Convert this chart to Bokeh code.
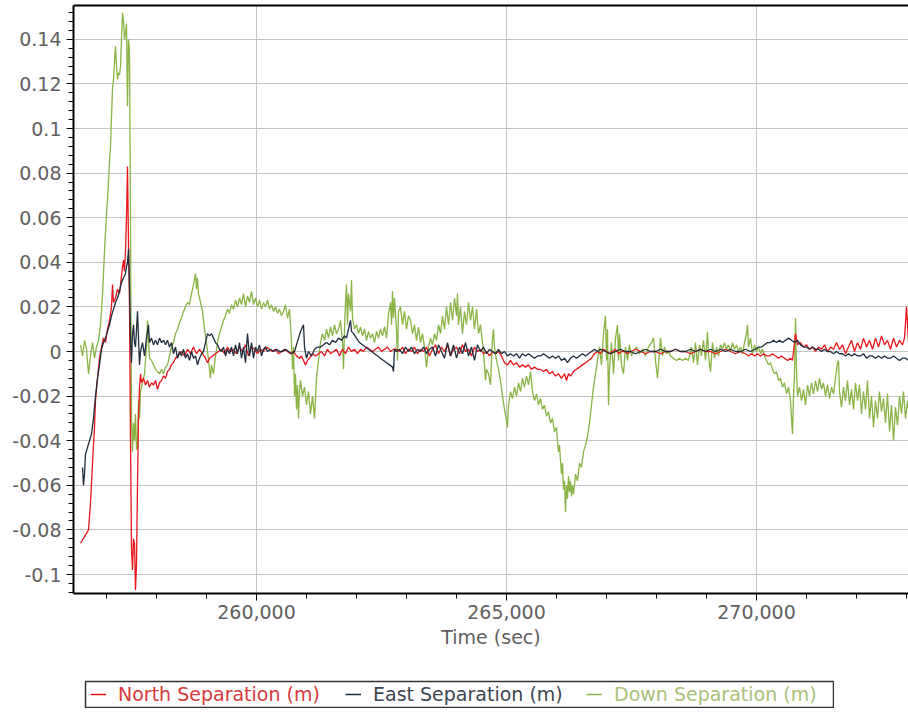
from bokeh.plotting import figure
from bokeh.models import (Range1d, LinearAxis, SingleIntervalTicker, FixedTicker,
                          NumeralTickFormatter, CustomJSTickFormatter, Legend, LegendItem, Spacer)
from bokeh.layouts import column, row
from bokeh.embed import file_html
from bokeh.resources import INLINE

series_names = ["North Separation (m)", "East Separation (m)", "Down Separation (m)"]
x_label = "Time (sec)"

north_t = [256480, 256560, 256640, 256680, 256720, 256760, 256780, 256820, 256860, 256900, 256940, 256980,
           257020, 257060, 257100, 257120, 257140, 257180, 257220, 257260, 257300, 257340, 257360, 257380,
           257400, 257420, 257440, 257460, 257480, 257500, 257520, 257540, 257560, 257580, 257600, 257620,
           257640, 257660, 257680, 257700, 257740, 257780, 257820, 257860, 257900, 257940, 257980, 258020,
           258060, 258100, 258140, 258180, 258220, 258260, 258300, 258340, 258380, 258420, 258460, 258500,
           258560, 258620, 258680, 258740, 258800, 258860, 258920, 258980, 259020, 259060, 259120, 259180,
           259240, 259300, 259360, 259420, 259480, 259540, 259600, 259660, 259720, 259780, 259840, 259900,
           259960, 260020, 260080, 260140, 260200, 260260, 260320, 260380, 260440, 260500, 260560, 260620,
           260680, 260740, 260800, 260860, 260900, 260940, 260980, 261020, 261060, 261120, 261180, 261240,
           261300, 261360, 261420, 261480, 261540, 261600, 261660, 261720, 261780, 261840, 261900, 261960,
           262020, 262080, 262140, 262200, 262260, 262320, 262380, 262440, 262500, 262560, 262620, 262680,
           262740, 262800, 262860, 262920, 262980, 263040, 263100, 263160, 263220, 263280, 263340, 263400,
           263460, 263520, 263580, 263640, 263700, 263760, 263820, 263880, 263940, 264000, 264060, 264120,
           264180, 264240, 264300, 264360, 264420, 264480, 264540, 264600, 264660, 264720, 264780, 264840,
           264900, 264960, 265020, 265080, 265140, 265200, 265260, 265320, 265380, 265440, 265500, 265560,
           265620, 265680, 265740, 265800, 265860, 265920, 265980, 266040, 266100, 266160, 266200, 266240,
           266280, 266340, 266400, 266460, 266520, 266580, 266640, 266700, 266760, 266820, 266880, 266940,
           267000, 267060, 267120, 267180, 267240, 267300, 267360, 267420, 267480, 267580, 267680, 267780,
           267880, 267980, 268080, 268180, 268280, 268380, 268480, 268580, 268680, 268780, 268880, 268980,
           269080, 269180, 269280, 269380, 269480, 269580, 269680, 269780, 269840, 269900, 269960, 270020,
           270080, 270140, 270200, 270260, 270320, 270380, 270440, 270500, 270560, 270620, 270680, 270720,
           270760, 270780, 270820, 270880, 270940, 271000, 271060, 271120, 271180, 271240, 271300, 271360,
           271420, 271480, 271540, 271600, 271660, 271720, 271780, 271840, 271900, 271960, 272020, 272080,
           272140, 272200, 272260, 272320, 272380, 272440, 272500, 272560, 272620, 272680, 272740, 272800,
           272860, 272920, 272960, 273000, 273040]
north_v = [-0.086, -0.083, -0.080, -0.068, -0.050, -0.034, -0.022, -0.012, -0.003, 0.002, 0.006, 0.004,
           0.010, 0.014, 0.020, 0.030, 0.022, 0.024, 0.028, 0.026, 0.034, 0.041, 0.036, 0.045,
           0.060, 0.083, 0.048, 0.020, -0.040, -0.088, -0.098, -0.084, -0.086, -0.107, -0.095, -0.060,
           -0.030, -0.016, -0.010, -0.014, -0.012, -0.015, -0.013, -0.016, -0.014, -0.015, -0.013, -0.017,
           -0.014, -0.013, -0.011, -0.012, -0.009, -0.008, -0.006, -0.005, -0.003, -0.002, -0.001, 0.000,
           -0.002, 0.001, -0.001, 0.002, -0.001, 0.001, -0.001, -0.003, -0.005, -0.003, -0.002, -0.001,
           0.000, 0.001, -0.001, 0.002, 0.000, 0.001, -0.001, 0.002, 0.000, 0.003, -0.002, 0.002,
           0.001, -0.001, 0.001, 0.000, 0.002, 0.001, 0.000, 0.001, -0.001, 0.000, 0.001, 0.000,
           -0.001, 0.000, -0.002, -0.003, -0.002, -0.004, -0.006, -0.004, -0.003, -0.001, -0.002, -0.001,
           0.000, -0.002, 0.001, -0.001, 0.000, 0.001, -0.002, 0.001, -0.001, 0.002, 0.000, 0.001,
           -0.001, 0.001, 0.000, 0.002, 0.001, 0.000, 0.001, 0.002, 0.000, 0.001, 0.002, 0.000,
           0.001, 0.001, 0.000, 0.002, -0.001, 0.001, 0.000, 0.002, -0.001, 0.001, 0.000, 0.002,
           -0.002, 0.001, 0.003, -0.001, 0.002, 0.000, 0.003, -0.002, 0.001, 0.002, -0.001, 0.003,
           0.000, 0.001, -0.002, 0.002, 0.000, 0.001, -0.001, 0.000, -0.002, 0.000, -0.001, 0.000,
           -0.002, -0.005, -0.006, -0.004, -0.006, -0.005, -0.007, -0.006, -0.007, -0.006, -0.008, -0.007,
           -0.008, -0.008, -0.009, -0.008, -0.010, -0.009, -0.011, -0.010, -0.012, -0.010, -0.013, -0.010,
           -0.011, -0.009, -0.008, -0.007, -0.006, -0.005, -0.004, -0.003, -0.001, 0.000, -0.001, 0.001,
           0.000, -0.001, 0.000, 0.001, -0.001, 0.000, 0.000, -0.001, 0.000, 0.001, 0.000, -0.001,
           0.000, 0.000, -0.001, 0.000, 0.000, 0.001, 0.000, 0.000, -0.001, 0.000, 0.001, 0.000,
           0.000, -0.001, 0.000, 0.001, 0.000, -0.001, 0.000, -0.001, -0.002, -0.001, -0.002, -0.001,
           -0.002, -0.001, -0.002, -0.002, -0.001, -0.002, -0.003, -0.002, -0.003, -0.004, -0.003, -0.004,
           0.004, 0.008, 0.003, 0.004, 0.002, 0.003, 0.001, 0.002, 0.000, 0.002, 0.001, 0.003,
           0.000, 0.002, 0.001, 0.004, 0.001, 0.003, -0.001, 0.002, 0.005, 0.000, 0.004, 0.001,
           0.006, 0.002, 0.005, 0.001, 0.006, 0.002, 0.007, 0.003, 0.005, 0.001, 0.006, 0.002,
           0.005, 0.003, 0.006, 0.020, 0.004]

east_t = [256520, 256540, 256560, 256580, 256620, 256660, 256700, 256740, 256780, 256820, 256860, 256900,
          256940, 256980, 257020, 257060, 257100, 257140, 257180, 257220, 257260, 257300, 257340, 257380,
          257400, 257420, 257440, 257460, 257480, 257500, 257520, 257540, 257560, 257580, 257600, 257620,
          257640, 257660, 257680, 257720, 257760, 257800, 257840, 257860, 257900, 257940, 257980, 258020,
          258060, 258100, 258140, 258180, 258220, 258260, 258300, 258340, 258380, 258420, 258460, 258500,
          258540, 258580, 258620, 258660, 258700, 258740, 258780, 258820, 258860, 258900, 258940, 258980,
          259020, 259060, 259100, 259140, 259180, 259220, 259260, 259300, 259340, 259380, 259420, 259460,
          259500, 259540, 259580, 259620, 259660, 259700, 259740, 259780, 259820, 259860, 259900, 259940,
          259980, 260020, 260060, 260100, 260140, 260180, 260220, 260280, 260340, 260400, 260460, 260520,
          260580, 260640, 260700, 260760, 260800, 260840, 260880, 260920, 260940, 260960, 261000, 261040,
          261100, 261160, 261220, 261280, 261340, 261400, 261460, 261520, 261580, 261640, 261700, 261760,
          261800, 261840, 261880, 261900, 261940, 262000, 262060, 262120, 262180, 262240, 262300, 262360,
          262420, 262480, 262540, 262600, 262660, 262720, 262740, 262760, 262800, 262860, 262920, 262980,
          263040, 263100, 263160, 263220, 263280, 263340, 263400, 263460, 263520, 263580, 263640, 263700,
          263760, 263820, 263880, 263940, 264000, 264060, 264120, 264180, 264240, 264300, 264360, 264420,
          264480, 264540, 264600, 264660, 264720, 264780, 264840, 264900, 264960, 265020, 265080, 265140,
          265200, 265260, 265320, 265380, 265440, 265500, 265560, 265620, 265680, 265740, 265800, 265860,
          265920, 265980, 266040, 266100, 266160, 266220, 266280, 266340, 266400, 266460, 266520, 266580,
          266640, 266700, 266760, 266820, 266880, 266980, 267080, 267180, 267280, 267380, 267480, 267580,
          267680, 267780, 267880, 267980, 268080, 268180, 268280, 268380, 268480, 268580, 268680, 268780,
          268880, 268980, 269080, 269180, 269280, 269380, 269480, 269580, 269680, 269780, 269880, 269980,
          270040, 270100, 270160, 270220, 270280, 270340, 270400, 270460, 270520, 270580, 270640, 270700,
          270760, 270820, 270880, 270940, 271000, 271060, 271120, 271180, 271240, 271300, 271360, 271420,
          271480, 271540, 271600, 271660, 271720, 271780, 271840, 271900, 271960, 272020, 272080, 272140,
          272200, 272260, 272320, 272380, 272440, 272500, 272560, 272620, 272680, 272740, 272800, 272860,
          272920, 272980, 273040]
east_v = [-0.052, -0.060, -0.055, -0.046, -0.043, -0.040, -0.037, -0.030, -0.020, -0.012, -0.006, 0.001,
          0.004, 0.006, 0.009, 0.012, 0.016, 0.019, 0.022, 0.024, 0.027, 0.031, 0.033, 0.035,
          0.038, 0.040, 0.046, 0.030, 0.005, -0.005, 0.008, 0.012, 0.004, 0.002, 0.010, 0.018,
          0.006, -0.006, 0.000, 0.004, -0.002, 0.006, 0.012, 0.004, 0.006, 0.003, 0.005, 0.003,
          0.006, 0.004, 0.005, 0.003, 0.005, 0.002, 0.004, -0.001, 0.002, -0.003, 0.000, -0.002,
          0.001, -0.003, -0.001, -0.004, 0.000, -0.003, -0.002, -0.006, -0.003, -0.001, 0.000, 0.004,
          0.008, 0.007, 0.008, 0.006, 0.004, 0.003, 0.001, 0.000, 0.002, -0.002, 0.001, -0.001,
          0.002, -0.002, 0.003, -0.001, 0.004, -0.003, 0.002, -0.005, 0.008, -0.002, 0.004, -0.003,
          0.002, 0.000, 0.003, -0.002, 0.001, 0.002, 0.000, 0.001, 0.000, 0.001, 0.000, 0.000,
          0.001, 0.000, -0.001, 0.000, 0.003, 0.006, 0.009, 0.011, 0.012, 0.002, -0.003, 0.000,
          -0.002, 0.001, 0.002, 0.002, 0.003, 0.004, 0.003, 0.005, 0.004, 0.006, 0.005, 0.007,
          0.006, 0.010, 0.014, 0.009, 0.008, 0.006, 0.004, 0.003, 0.002, 0.001, 0.000, -0.001,
          -0.002, -0.003, -0.004, -0.005, -0.006, -0.007, -0.009, 0.001, 0.000, 0.001, -0.001, 0.002,
          0.000, 0.002, -0.001, 0.001, 0.000, 0.002, -0.001, 0.001, 0.002, -0.002, 0.003, 0.000,
          -0.003, 0.004, -0.002, 0.003, -0.003, 0.002, -0.001, 0.004, -0.002, 0.002, -0.004, 0.003,
          0.000, 0.002, -0.001, 0.001, 0.000, -0.001, 0.001, -0.001, 0.000, -0.002, -0.001, -0.002,
          -0.001, -0.003, -0.001, -0.002, -0.001, -0.002, -0.003, -0.002, -0.002, -0.001, -0.002, -0.003,
          -0.002, -0.003, -0.002, -0.004, -0.003, -0.005, -0.003, -0.002, -0.003, -0.002, -0.001, -0.002,
          -0.001, 0.000, 0.001, 0.000, 0.001, 0.000, -0.001, 0.000, 0.001, 0.000, 0.000, -0.001,
          0.000, 0.001, 0.000, 0.000, 0.001, 0.000, 0.000, 0.001, 0.000, 0.000, 0.001, 0.000,
          0.001, 0.000, 0.001, 0.000, 0.001, 0.000, 0.001, 0.000, 0.000, 0.001, 0.000, 0.001,
          0.002, 0.002, 0.003, 0.004, 0.004, 0.005, 0.004, 0.005, 0.004, 0.005, 0.006, 0.005,
          0.004, 0.005, 0.003, 0.002, 0.002, 0.001, 0.002, 0.001, 0.001, 0.000, 0.001, 0.000,
          0.000, -0.001, 0.000, -0.001, -0.001, -0.002, -0.001, -0.002, -0.001, -0.002, -0.002, -0.001,
          -0.003, -0.002, -0.002, -0.003, -0.002, -0.003, -0.002, -0.003, -0.003, -0.002, -0.003, -0.004,
          -0.003, -0.003, -0.004]

down_t = [256480, 256520, 256560, 256600, 256640, 256680, 256720, 256760, 256800, 256840, 256880, 256920,
          256960, 257000, 257020, 257060, 257080, 257100, 257120, 257140, 257160, 257180, 257200, 257220,
          257240, 257260, 257280, 257300, 257320, 257340, 257360, 257380, 257400, 257420, 257440, 257460,
          257480, 257500, 257520, 257540, 257560, 257580, 257600, 257620, 257640, 257660, 257680, 257720,
          257760, 257800, 257820, 257840, 257860, 257900, 257940, 257980, 258020, 258060, 258100, 258140,
          258180, 258220, 258260, 258300, 258340, 258380, 258420, 258460, 258500, 258540, 258580, 258620,
          258660, 258700, 258740, 258780, 258800, 258820, 258840, 258880, 258920, 258960, 259000, 259040,
          259060, 259080, 259100, 259140, 259180, 259220, 259260, 259300, 259340, 259380, 259420, 259460,
          259500, 259540, 259580, 259620, 259660, 259700, 259740, 259780, 259820, 259860, 259900, 259940,
          259980, 260020, 260060, 260100, 260140, 260180, 260220, 260260, 260300, 260340, 260380, 260420,
          260460, 260500, 260540, 260580, 260620, 260660, 260680, 260700, 260720, 260740, 260760, 260780,
          260800, 260820, 260840, 260860, 260880, 260920, 260960, 261000, 261040, 261080, 261120, 261160,
          261200, 261240, 261280, 261320, 261360, 261400, 261440, 261480, 261520, 261560, 261600, 261640,
          261680, 261720, 261740, 261760, 261780, 261800, 261820, 261840, 261880, 261900, 261920, 261960,
          262000, 262040, 262080, 262120, 262160, 262200, 262240, 262280, 262320, 262360, 262400, 262440,
          262480, 262520, 262560, 262600, 262640, 262680, 262700, 262720, 262740, 262760, 262800, 262820,
          262840, 262880, 262920, 262960, 263000, 263040, 263080, 263120, 263160, 263200, 263240, 263280,
          263320, 263360, 263400, 263420, 263440, 263480, 263520, 263560, 263600, 263640, 263680, 263720,
          263760, 263800, 263840, 263880, 263920, 263960, 264000, 264020, 264040, 264080, 264120, 264160,
          264200, 264240, 264280, 264320, 264360, 264400, 264440, 264480, 264520, 264560, 264580, 264600,
          264640, 264680, 264700, 264720, 264740, 264760, 264800, 264840, 264880, 264920, 264960, 265000,
          265020, 265040, 265080, 265120, 265160, 265200, 265240, 265280, 265320, 265360, 265400, 265440,
          265480, 265520, 265560, 265600, 265640, 265680, 265720, 265760, 265800, 265840, 265880, 265920,
          265960, 266000, 266020, 266040, 266060, 266080, 266100, 266120, 266140, 266160, 266180, 266200,
          266220, 266240, 266260, 266280, 266300, 266320, 266340, 266380, 266420, 266460, 266500, 266540,
          266580, 266620, 266660, 266700, 266740, 266780, 266820, 266860, 266900, 266940, 266980, 267000,
          267020, 267040, 267060, 267100, 267140, 267180, 267220, 267240, 267260, 267300, 267340, 267380,
          267420, 267460, 267500, 267540, 267600, 267660, 267720, 267780, 267840, 267900, 267940, 267980,
          268020, 268060, 268080, 268120, 268160, 268200, 268240, 268280, 268340, 268400, 268460, 268520,
          268580, 268640, 268700, 268740, 268780, 268820, 268860, 268900, 268940, 268980, 269020, 269040,
          269080, 269120, 269160, 269200, 269240, 269280, 269320, 269360, 269400, 269440, 269480, 269520,
          269560, 269600, 269640, 269680, 269720, 269760, 269800, 269820, 269840, 269880, 269920, 269960,
          270000, 270040, 270080, 270120, 270160, 270200, 270240, 270280, 270320, 270360, 270400, 270440,
          270480, 270520, 270560, 270600, 270640, 270680, 270700, 270720, 270740, 270760, 270780, 270800,
          270820, 270860, 270900, 270940, 270980, 271020, 271060, 271100, 271140, 271180, 271220, 271260,
          271300, 271340, 271380, 271420, 271460, 271500, 271540, 271580, 271620, 271640, 271660, 271700,
          271740, 271780, 271820, 271860, 271900, 271940, 271980, 272020, 272060, 272100, 272140, 272180,
          272220, 272260, 272300, 272340, 272380, 272420, 272460, 272500, 272540, 272580, 272620, 272660,
          272700, 272740, 272780, 272820, 272860, 272900, 272940, 272980, 273020, 273040]
down_v = [0.003, -0.002, 0.005, 0.001, -0.010, -0.002, 0.004, -0.003, 0.002, 0.005, 0.012, 0.025,
          0.045, 0.062, 0.068, 0.085, 0.092, 0.105, 0.118, 0.122, 0.130, 0.137, 0.128, 0.122,
          0.125, 0.124, 0.128, 0.140, 0.152, 0.148, 0.140, 0.143, 0.147, 0.110, 0.140, 0.135,
          0.060, -0.030, -0.045, -0.032, -0.040, -0.028, -0.044, -0.043, -0.022, -0.030, -0.018, -0.014,
          -0.010, 0.002, 0.014, 0.005, -0.003, -0.004, -0.006, -0.008, -0.009, -0.010, -0.008, -0.010,
          -0.007, -0.006, -0.002, 0.002, 0.004, 0.008, 0.010, 0.013, 0.015, 0.018, 0.020, 0.022,
          0.021, 0.026, 0.030, 0.035, 0.028, 0.033, 0.026, 0.022, 0.018, 0.010, 0.004, -0.004,
          -0.008, -0.012, -0.006, -0.010, -0.002, 0.004, 0.008, 0.011, 0.014, 0.016, 0.019, 0.017,
          0.021, 0.019, 0.023, 0.020, 0.024, 0.021, 0.026, 0.020, 0.025, 0.022, 0.027, 0.021,
          0.024, 0.020, 0.023, 0.019, 0.022, 0.020, 0.023, 0.019, 0.021, 0.018, 0.020, 0.017,
          0.019, 0.016, 0.018, 0.021, 0.015, 0.019, 0.012, 0.004, -0.008, 0.002, -0.020, -0.010,
          -0.026, -0.015, -0.030, -0.018, -0.013, -0.020, -0.016, -0.024, -0.018, -0.028, -0.020, -0.030,
          -0.012, -0.004, 0.004, 0.008, 0.005, 0.010, 0.006, 0.011, 0.007, 0.012, 0.008, 0.010,
          0.014, 0.004, -0.008, 0.010, 0.022, 0.030, 0.012, 0.026, 0.018, 0.032, 0.015, 0.010,
          0.012, 0.008, 0.011, 0.007, 0.010, 0.005, 0.009, 0.006, 0.008, 0.004, 0.009, 0.006,
          0.010, 0.007, 0.011, 0.006, 0.017, 0.022, 0.012, 0.027, 0.015, 0.024, 0.010, -0.004,
          0.018, 0.020, 0.012, 0.018, 0.010, 0.016, 0.014, 0.008, 0.012, 0.005, 0.011, 0.004,
          0.008, 0.002, -0.007, -0.003, 0.002, 0.006, 0.003, 0.008, 0.005, 0.012, 0.008, 0.016,
          0.010, 0.020, 0.012, 0.022, 0.014, 0.024, 0.016, 0.026, 0.012, 0.020, 0.008, 0.018,
          0.012, 0.022, 0.014, 0.020, 0.010, 0.019, 0.008, 0.012, 0.004, -0.006, -0.013, -0.008,
          -0.010, -0.015, -0.004, 0.006, 0.010, 0.002, -0.004, -0.008, -0.013, -0.020, -0.026, -0.031,
          -0.034, -0.024, -0.018, -0.021, -0.016, -0.020, -0.014, -0.018, -0.012, -0.016, -0.011, -0.015,
          -0.009, -0.018, -0.022, -0.019, -0.024, -0.021, -0.026, -0.024, -0.029, -0.027, -0.032, -0.030,
          -0.036, -0.034, -0.040, -0.045, -0.042, -0.049, -0.055, -0.050, -0.062, -0.058, -0.072, -0.060,
          -0.066, -0.056, -0.063, -0.058, -0.065, -0.060, -0.064, -0.055, -0.058, -0.050, -0.052, -0.045,
          -0.042, -0.038, -0.032, -0.024, -0.016, -0.010, -0.004, 0.002, -0.006, 0.008, 0.016, -0.004,
          0.010, -0.024, -0.008, 0.004, -0.010, 0.006, 0.012, -0.004, 0.008, -0.006, -0.010, 0.002,
          -0.004, 0.003, -0.002, 0.000, 0.002, -0.001, 0.001, -0.002, 0.002, 0.004, 0.006, -0.004,
          -0.012, 0.000, 0.006, -0.002, 0.002, -0.001, 0.000, -0.002, -0.003, -0.004, -0.003, -0.004,
          -0.003, -0.004, 0.002, -0.005, 0.004, -0.006, 0.003, -0.002, 0.005, -0.004, 0.009, -0.002,
          -0.009, 0.004, -0.003, 0.002, -0.002, 0.003, 0.001, 0.004, 0.001, 0.003, 0.000, 0.004,
          0.001, 0.003, 0.000, 0.002, -0.001, 0.004, 0.008, 0.012, 0.002, 0.006, -0.001, 0.003,
          0.000, 0.002, -0.001, 0.001, -0.002, -0.004, -0.006, -0.005, -0.008, -0.010, -0.009, -0.013,
          -0.012, -0.016, -0.014, -0.019, -0.016, -0.022, -0.030, -0.037, -0.020, -0.010, 0.015, -0.008,
          -0.020, -0.016, -0.022, -0.017, -0.024, -0.015, -0.020, -0.014, -0.019, -0.013, -0.018, -0.012,
          -0.017, -0.014, -0.020, -0.015, -0.021, -0.016, -0.019, -0.012, -0.005, -0.004, -0.018, -0.025,
          -0.016, -0.022, -0.013, -0.024, -0.017, -0.026, -0.014, -0.022, -0.015, -0.028, -0.018, -0.026,
          -0.013, -0.030, -0.020, -0.034, -0.022, -0.030, -0.018, -0.027, -0.021, -0.032, -0.019, -0.036,
          -0.024, -0.040, -0.025, -0.033, -0.020, -0.028, -0.018, -0.030, -0.022, -0.026]

north_color = "#e8161b"
east_color = "#1f2d3d"
down_color = "#8ab446"
label_colors = ["#d43a3a", "#3c4650", "#a9c07a"]

FONT = "DejaVu Sans"
TEXT_GRAY = "#606060"

p = figure(width=908, height=658, output_backend="svg", toolbar_location=None,
           x_range=Range1d(256340, 273040), y_range=Range1d(-0.10852, 0.15516),
           min_border_left=73, min_border_right=0, min_border_top=5, min_border_bottom=65,
           background_fill_color="white", border_fill_color="white")
p.outline_line_color = None

p.line(down_t, down_v, line_color=down_color, line_width=1.3)
p.line(north_t, north_v, line_color=north_color, line_width=1.3)
p.line(east_t, east_v, line_color=east_color, line_width=1.3)

xa = p.xaxis[0]
xa.ticker = SingleIntervalTicker(interval=5000, num_minor_ticks=5)
xa.formatter = NumeralTickFormatter(format="0,0")
xa.axis_label = x_label
ya = p.yaxis[0]
ya.ticker = SingleIntervalTicker(interval=0.02, num_minor_ticks=5)
ya.formatter = CustomJSTickFormatter(code="return String(Math.round(tick*100)/100);")

for ax in (xa, ya):
    ax.axis_line_color = "black"
    ax.axis_line_width = 2
    ax.major_tick_line_color = "black"
    ax.minor_tick_line_color = "black"
    ax.major_tick_out = 7
    ax.major_tick_in = 0
    ax.minor_tick_out = 5
    ax.minor_tick_in = 0
    ax.major_label_text_font = FONT
    ax.major_label_text_font_size = "19px"
    ax.major_label_text_color = TEXT_GRAY
    ax.axis_label_text_font = FONT
    ax.axis_label_text_font_size = "19px"
    ax.axis_label_text_font_style = "normal"
    ax.axis_label_text_color = TEXT_GRAY
xa.major_label_standoff = 4
xa.axis_label_standoff = 4
ya.major_label_standoff = 5

top_axis = LinearAxis(ticker=FixedTicker(ticks=[]), axis_line_color="black", axis_line_width=2,
                      major_tick_out=0, major_tick_in=0, minor_tick_out=0, minor_tick_in=0,
                      major_label_standoff=0, major_label_text_font_size="0px")
p.add_layout(top_axis, "above")

p.xgrid.grid_line_color = "#c4c4c4"
p.ygrid.grid_line_color = "#c4c4c4"
p.xgrid.grid_line_width = 1
p.ygrid.grid_line_width = 1

# legend box (separate small figure so each label can keep its own colour)
lg = figure(width=750, height=28, output_backend="svg", toolbar_location=None,
            x_range=Range1d(0, 1), y_range=Range1d(0, 1), x_axis_type=None, y_axis_type=None,
            min_border_left=1, min_border_right=1, min_border_top=1, min_border_bottom=1)
lg.outline_line_color = "#333333"
lg.outline_line_width = 1.5
lg.background_fill_color = "white"
lg.border_fill_color = None

legend_x = [5, 260, 501]
for name, lc, tc, lx in zip(series_names, [north_color, east_color, down_color], label_colors, legend_x):
    r = lg.line(x=[-5, -4], y=[-5, -5], line_color=lc, line_width=1.5)
    leg = Legend(items=[LegendItem(label=name, renderers=[r])], location=(lx, 2),
                 padding=0, margin=0, spacing=0, glyph_width=16, glyph_height=20,
                 label_standoff=12, label_text_font=FONT, label_text_font_size="19px",
                 label_text_color=tc, background_fill_alpha=0, border_line_alpha=0)
    lg.add_layout(leg, "center")

layout = column(p, Spacer(height=22), row(Spacer(width=84), lg))

open("out.html", "w").write(file_html(layout, INLINE))
